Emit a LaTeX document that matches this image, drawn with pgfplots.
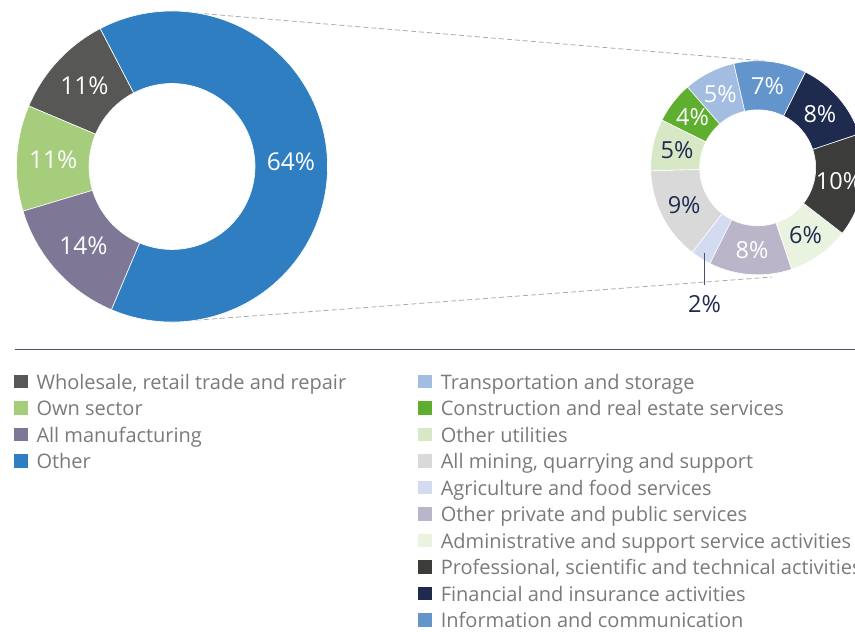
\documentclass[border=0pt]{standalone}
\usepackage{pgfplots}
\pgfplotsset{compat=1.18}
\usepackage{pgfplotstable}
\usepackage{fontspec}
\setmainfont{Open Sans}

\definecolor{legtext}{HTML}{7A7A7A}
\definecolor{rulecol}{HTML}{4B5067}
\definecolor{connector}{HTML}{ABABAB}
\definecolor{navy}{HTML}{1F2A4E}

% shares of all links, legend order (drawn counter-clockwise)
\pgfplotstableread[col sep=semicolon]{
name;val;col;txt;out
Wholesale, retail trade and repair;11;575756;FFFFFF;0
Own sector;11;A6CD7B;FFFFFF;0
All manufacturing;14;7E7896;FFFFFF;0
Other;64;2E7EC1;FFFFFF;0
}\sharemain

% breakdown of "Other"
\pgfplotstableread[col sep=semicolon]{
name;val;col;txt;out
Transportation and storage;5;A3BCE2;FFFFFF;0
Construction and real estate services;4;5EAF2F;FFFFFF;0
Other utilities;5;D8E7C5;1F2A4E;0
All mining, quarrying and support;9;D9D9D9;1F2A4E;0
Agriculture and food services;2;D3DBF1;1F2A4E;1
Other private and public services;8;BAB5C8;FFFFFF;0
Administrative and support service activities;6;EAF2E0;1F2A4E;0
Professional, scientific and technical activities;10;3C3C3B;FFFFFF;0
Financial and insurance activities;8;1F2A4F;FFFFFF;0
Information and communication;7;6395CC;FFFFFF;0
}\shareother

\newcommand{\setcol}[2]{\edef\dTmp{\noexpand\definecolor{#1}{HTML}{#2}}\dTmp}
\newcommand{\legfont}{\fontsize{20}{24}\selectfont}

% #1 table, #2 #3 centre, #4 outer r, #5 inner r, #6 first angle, #7 label r,
% #8 label font size
\newcommand{\donut}[8]{%
  \pgfplotstablegetrowsof{#1}%
  \pgfmathtruncatemacro\dLast{\pgfplotsretval-1}%
  \def\dTot{0}%
  \pgfplotsforeachungrouped \dK in {0,...,\dLast}{%
    \pgfplotstablegetelem{\dK}{val}\of{#1}%
    \pgfmathsetmacro\dTot{\dTot+\pgfplotsretval}%
  }%
  \def\dA{#6}%
  \pgfplotsforeachungrouped \dK in {0,...,\dLast}{%
    \pgfplotstablegetelem{\dK}{val}\of{#1}\let\dV\pgfplotsretval
    \pgfplotstablegetelem{\dK}{col}\of{#1}\setcol{slice}{\pgfplotsretval}%
    \pgfplotstablegetelem{\dK}{txt}\of{#1}\setcol{lab}{\pgfplotsretval}%
    \pgfplotstablegetelem{\dK}{out}\of{#1}\let\dOut\pgfplotsretval
    \pgfmathsetmacro\dB{\dA+\dV/\dTot*360}%
    \pgfmathsetmacro\dM{(\dA+\dB)/2}%
    \pgfmathsetmacro\dXo{#2+#4*cos(\dA)}%
    \pgfmathsetmacro\dYo{#3-#4*sin(\dA)}%
    \pgfmathsetmacro\dXi{#2+#5*cos(\dB)}%
    \pgfmathsetmacro\dYi{#3-#5*sin(\dB)}%
    \path[fill=slice, draw=white, line width=0.6pt]
      (axis cs:\dXo,\dYo) arc[start angle=\dA, end angle=\dB, radius=#4pt]
      -- (axis cs:\dXi,\dYi) arc[start angle=\dB, end angle=\dA, radius=#5pt] -- cycle;
    \ifnum\dOut=1\relax
      \pgfmathsetmacro\dPx{#2+(#4-7)*cos(\dM)}%
      \pgfmathsetmacro\dPy{#3-(#4-7)*sin(\dM)}%
      \pgfmathsetmacro\dQy{\dPy+32}%
      \pgfmathsetmacro\dLy{\dPy+52}%
      \draw[rulecol, line width=1.2pt] (axis cs:\dPx,\dPy) -- (axis cs:\dPx,\dQy);
      \node[text=navy, inner sep=0pt, font=\fontsize{#8}{#8}\selectfont]
        at (axis cs:\dPx,\dLy) {\dV\%};
    \else
      \pgfmathsetmacro\dLx{#2+#7*cos(\dM)}%
      \pgfmathsetmacro\dLy{#3-#7*sin(\dM)}%
      \node[text=lab, inner sep=0pt, font=\fontsize{#8}{#8}\selectfont]
        at (axis cs:\dLx,\dLy) {\dV\%};
    \fi
    \let\dA\dB
  }%
}

% #1 table, #2 left of square, #3 centre of first row
\newcommand{\legendcol}[3]{%
  \pgfplotstablegetrowsof{#1}%
  \pgfmathtruncatemacro\dLast{\pgfplotsretval-1}%
  \pgfplotsforeachungrouped \dK in {0,...,\dLast}{%
    \pgfplotstablegetelem{\dK}{col}\of{#1}\setcol{slice}{\pgfplotsretval}%
    \pgfplotstablegetelem{\dK}{name}\of{#1}\let\dName\pgfplotsretval
    \pgfmathsetmacro\dYc{#3+26.5*\dK}%
    \pgfmathsetmacro\dYt{\dYc-6.75}%
    \pgfmathsetmacro\dYb{\dYc+6.75}%
    \pgfmathsetmacro\dYl{\dYc+7.3}%
    \pgfmathsetmacro\dXr{#2+13.5}%
    \pgfmathsetmacro\dXt{#2+22.3}%
    \fill[slice] (axis cs:#2,\dYt) rectangle (axis cs:\dXr,\dYb);
    \node[anchor=base west, inner sep=0pt, text=legtext, font=\legfont]
      at (axis cs:\dXt,\dYl) {\dName};
  }%
}

\begin{document}
\begin{tikzpicture}
\useasboundingbox (0,0) rectangle (855pt,632pt);
\begin{axis}[
    at={(0,0)}, anchor=south west,
    scale only axis, width=855pt, height=632pt,
    xmin=0, xmax=855, ymin=0, ymax=632,
    y dir=reverse, hide axis, clip=true,
]
\pgfplotsextra{%
  \draw[connector, dash pattern=on 5pt off 3pt, line width=0.8pt]
    (axis cs:172,11) -- (axis cs:765,61);
  \draw[connector, dash pattern=on 5pt off 3pt, line width=0.8pt]
    (axis cs:172,322) -- (axis cs:772,277);
  \donut{\sharemain}{172}{166.5}{155.5}{83}{117.5}{119}{24.5}%
  \donut{\shareother}{757.7}{167.8}{107}{58}{102.9}{82.5}{23.5}%
  \draw[rulecol, line width=1.3pt] (axis cs:15,349.3) -- (axis cs:860,349.3);
  \legendcol{\sharemain}{14}{381.7}%
  \legendcol{\shareother}{418.3}{381.7}%
}
\end{axis}
\end{tikzpicture}
\end{document}
